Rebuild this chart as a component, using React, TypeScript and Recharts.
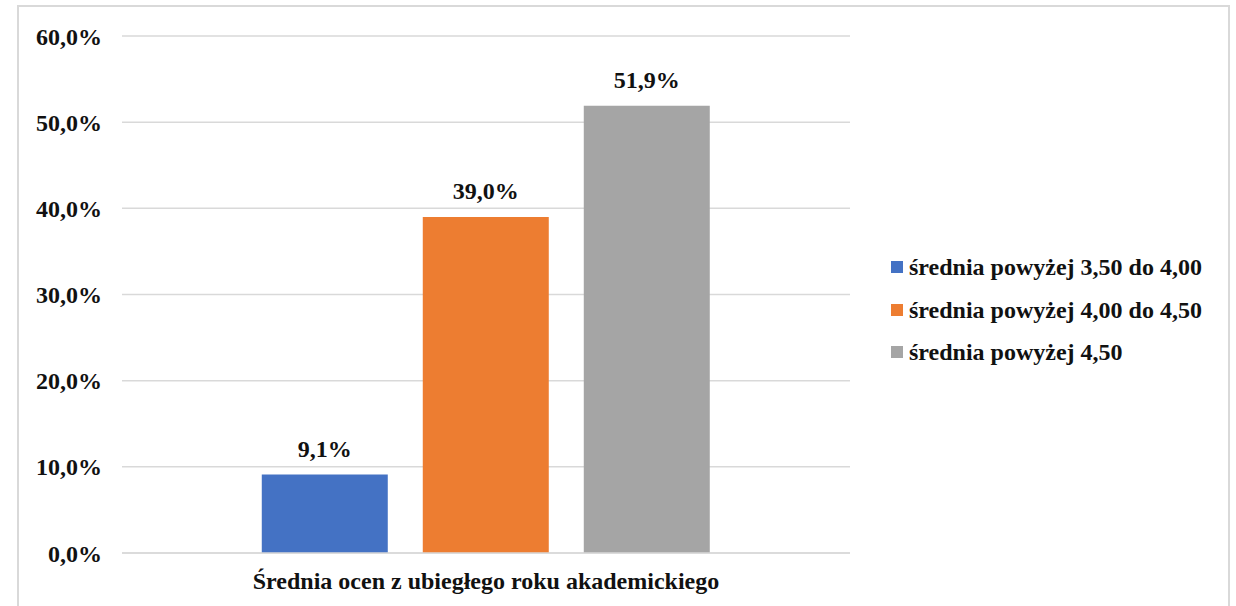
import React from 'react';
import {
  BarChart,
  Bar,
  XAxis,
  YAxis,
  CartesianGrid,
  Legend,
  LabelList
} from 'recharts';

const categories = ['Średnia ocen z ubiegłego roku akademickiego'];
const seriesNames = [
  'średnia powyżej 3,50 do 4,00',
  'średnia powyżej 4,00 do 4,50',
  'średnia powyżej 4,50'
];
const seriesValues = [9.1, 39.0, 51.9];
const seriesColors = ['#4472C4', '#ED7D31', '#A5A5A5'];
const yTicks = [0, 10, 20, 30, 40, 50, 60];

const data = categories.map(cat => {
  const row: { [key: string]: string | number } = { cat };
  seriesValues.forEach((v, i) => {
    row['s' + i] = v;
  });
  return row;
});

const fontFamily = 'Liberation Serif, DejaVu Serif, serif';
const fontSize = 24;
const textColor = '#111';

const pct = (v: number) => v.toFixed(1).replace('.', ',') + '%';

// legend drawn by hand to get the square markers and spacing
const renderLegend = () => (
  <div style={{ fontFamily, fontWeight: 'bold', fontSize, color: textColor, lineHeight: 1 }}>
    {seriesNames.map((name, i) => (
      <div key={name} style={{ display: 'flex', alignItems: 'center', height: 42.5 }}>
        <span
          style={{
            display: 'inline-block',
            width: 12,
            height: 12,
            background: seriesColors[i],
            marginRight: 6
          }}
        />
        <span>{name}</span>
      </div>
    ))}
  </div>
);

export default function App() {
  return (
    <div
      style={{
        position: 'absolute',
        left: 0,
        top: 0,
        width: 1236,
        height: 606,
        overflow: 'hidden',
        background: '#fff'
      }}
    >
      <BarChart
        width={1236}
        height={606}
        data={data}
        margin={{ top: 36, right: 386, bottom: 0, left: 0 }}
        barCategoryGap="19.2%"
        barGap={35}
      >
        <CartesianGrid horizontal vertical={false} stroke="#d9d9d9" strokeWidth={1.5} />
        <XAxis
          dataKey="cat"
          height={53}
          axisLine={{ stroke: '#d9d9d9', strokeWidth: 1.5 }}
          tickLine={false}
          tickMargin={13}
          tick={{ fontFamily, fontWeight: 'bold', fontSize, fill: textColor }}
        />
        <YAxis
          width={122}
          domain={[0, 60]}
          ticks={yTicks}
          interval={0}
          axisLine={false}
          tickLine={false}
          tickSize={18}
          tickMargin={2}
          tickFormatter={pct}
          tick={{ fontFamily, fontWeight: 'bold', fontSize, fill: textColor }}
        />
        <Legend
          layout="horizontal"
          verticalAlign="middle"
          align="center"
          content={renderLegend}
          wrapperStyle={{ left: 891, top: 246, width: 340 }}
        />
        {seriesNames.map((name, i) => (
          <Bar
            key={name}
            dataKey={'s' + i}
            name={name}
            fill={seriesColors[i]}
            isAnimationActive={false}
          >
            <LabelList
              dataKey={'s' + i}
              position="top"
              offset={18}
              formatter={(v: number) => pct(v)}
              style={{ fontFamily, fontWeight: 'bold', fontSize, fill: textColor }}
            />
          </Bar>
        ))}
      </BarChart>
      {/* chart frame, drawn on top */}
      <div
        style={{
          position: 'absolute',
          left: 17,
          top: 5,
          width: 1213,
          height: 640,
          boxSizing: 'border-box',
          border: '2px solid #d9d9d9',
          pointerEvents: 'none'
        }}
      />
    </div>
  );
}
